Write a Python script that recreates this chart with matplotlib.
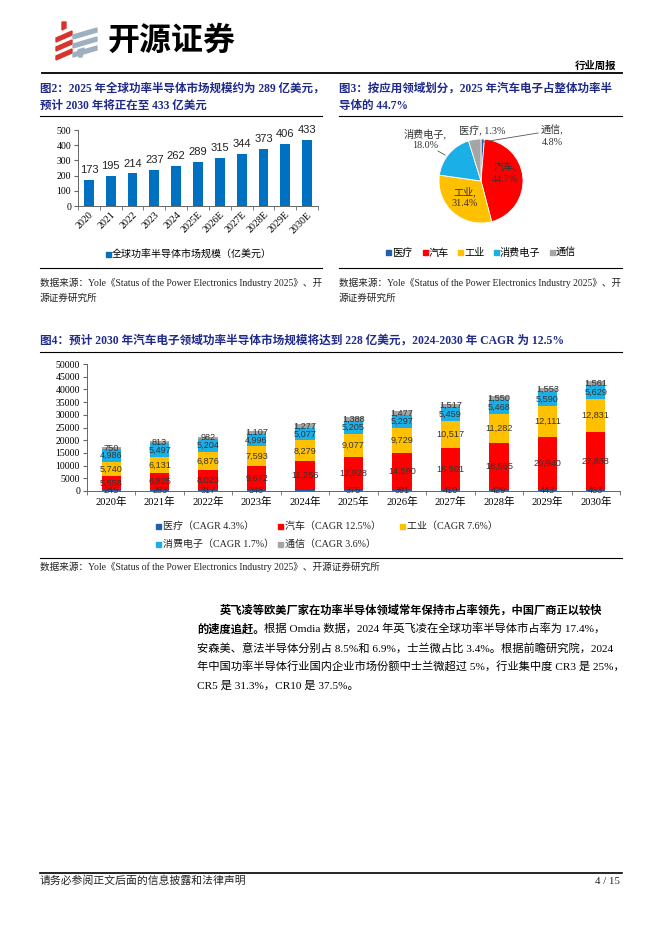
import matplotlib
matplotlib.use('Agg')
import matplotlib.pyplot as plt
from matplotlib.patches import Polygon, Rectangle
from matplotlib.lines import Line2D

W, H = 662, 936
CJK = 'Noto Sans CJK SC'
MIX = ['Liberation Serif', CJK]
NAVY = '#1F2A8A'

# 图2 数据
years2 = ['2020', '2021', '2022', '2023', '2024', '2025E', '2026E', '2027E', '2028E', '2029E', '2030E']
market = [173, 195, 214, 237, 262, 289, 315, 344, 373, 406, 433]

# 图3 数据
pie_names = ['医疗', '汽车', '工业', '消费电子', '通信']
pie_share = [1.3, 44.7, 31.4, 18.0, 4.8]

# 图4 数据
years4 = ['2020年', '2021年', '2022年', '2023年', '2024年', '2025年', '2026年', '2027年', '2028年', '2029年', '2030年']
med = [245, 283, 317, 348, 360, 375, 391, 410, 429, 443, 463]
auto = [5558, 6825, 8023, 9672, 11256, 12928, 14590, 16501, 18565, 20940, 22838]
indus = [5740, 6131, 6876, 7593, 8279, 9077, 9729, 10517, 11282, 12111, 12831]
cons = [4986, 5497, 5204, 4996, 5077, 5205, 5297, 5459, 5468, 5590, 5629]
comm = [750, 813, 982, 1107, 1277, 1388, 1477, 1517, 1550, 1553, 1561]
seg_names = ['医疗', '汽车', '工业', '消费电子', '通信']
cagr = [4.3, 12.5, 7.6, 1.7, 3.6]

colors = ['#1F5FAD', '#FF0000', '#FFC000', '#1AAFE6', '#A5A5A5']

fig = plt.figure(figsize=(W / 100, H / 100), dpi=100)


def fx(x):
    return x / W


def fy(y):
    return 1 - y / H


def txt(x, y, s, size=7, family=MIX, **kw):
    return fig.text(fx(x), fy(y), s, fontsize=size, family=family, va='center', **kw)


def hline(x0, x1, y, lw=0.8):
    fig.add_artist(Line2D([fx(x0), fx(x1)], [fy(y), fy(y)], color='k', lw=lw))


def axes_px(l, t, r, b):
    return fig.add_axes([fx(l), fy(b), (r - l) / W, (b - t) / H])


def square(x, y, c, s=6):
    fig.add_artist(Rectangle((fx(x - s / 2), fy(y + s / 2)), s / W, s / H,
                             color=c, transform=fig.transFigure))


# ---- 页眉 logo
for i in range(3):
    y = 30 + i * 9
    fig.add_artist(Polygon([(fx(56), fy(y + 8)), (fx(72), fy(y + 1)), (fx(72), fy(y + 5)), (fx(56), fy(y + 12))],
                           closed=True, color='#D9342B', transform=fig.transFigure))
    fig.add_artist(Polygon([(fx(73), fy(y + 5)), (fx(97), fy(y - 2)), (fx(97), fy(y + 2)), (fx(73), fy(y + 9))],
                           closed=True, color='#9EB0BF', transform=fig.transFigure))
fig.add_artist(Polygon([(fx(62), fy(22)), (fx(66), fy(22)), (fx(66), fy(28)), (fx(62), fy(30))],
                       closed=True, color='#D9342B', transform=fig.transFigure))
fig.add_artist(Polygon([(fx(78), fy(50)), (fx(84), fy(48)), (fx(82), fy(57)), (fx(79), fy(57))],
                       closed=True, color='#9EB0BF', transform=fig.transFigure))
txt(108, 41, '开源证券', size=23, family=CJK, weight='bold')
txt(616, 66, '行业周报', size=7.5, family=CJK, weight='bold', ha='right')
hline(42, 622, 73, lw=1.3)

# ---- 标题
TS = 8.3
txt(40, 89, '图2：2025 年全球功率半导体市场规模约为 289 亿美元，', size=TS, weight='bold', color=NAVY)
txt(40, 106, '预计 2030 年将正在至 433 亿美元', size=TS, weight='bold', color=NAVY)
txt(339, 89, '图3：按应用领域划分，2025 年汽车电子占整体功率半', size=TS, weight='bold', color=NAVY)
txt(339, 106, '导体的 44.7%', size=TS, weight='bold', color=NAVY)
hline(40, 322, 116)
hline(339, 622, 116)

# ---- 图2 柱状图
ax2 = axes_px(78, 130, 318, 206)
xs = list(range(len(years2)))
ax2.bar(xs, market, width=0.45, color='#0070C0')
for i, v in enumerate(market):
    ax2.annotate(str(v), (i, v), xytext=(0, 3.5), textcoords='offset points',
                 ha='center', va='bottom', fontsize=8, family='Liberation Sans', color='#222222')
ax2.set_xlim(-0.5, len(years2) - 0.5)
ax2.set_ylim(0, 500)
ax2.set_yticks(range(0, 501, 100))
ax2.set_xticks(xs)
ax2.set_xticklabels(years2, rotation=45, ha='right', rotation_mode='anchor', family='Liberation Serif', fontsize=7.2)
ax2.set_xticks([i + 0.5 for i in range(-1, len(years2))], minor=True)
ax2.tick_params(axis='x', which='major', length=0, pad=3)
ax2.tick_params(axis='x', which='minor', length=3, color='#666666')
ax2.tick_params(axis='y', length=3, color='#666666', labelsize=7, pad=2)
for lb in ax2.get_yticklabels():
    lb.set_family('Liberation Serif')
for s in ['top', 'right']:
    ax2.spines[s].set_visible(False)
for s in ['left', 'bottom']:
    ax2.spines[s].set_color('#666666')
    ax2.spines[s].set_linewidth(0.7)
square(108, 254, '#0070C0', 5)
txt(112, 254, '全球功率半导体市场规模（亿美元）', size=7.2, family=CJK)

# ---- 图3 饼图
ax3 = axes_px(381, 111, 581, 251)
ax3.pie(pie_share, radius=42, startangle=90, counterclock=False, colors=colors,
        wedgeprops=dict(edgecolor='white', linewidth=0.6))
ax3.set_xlim(-100, 100)
ax3.set_ylim(-70, 70)
ax3.set_aspect('equal')
ax3.axis('off')
pie_lbl_pos = [(1, 50), (24, 8), (-16, -16), (-56, 42), (71, 45)]
pie_lbl_fmt = ['{}, {:.1f}%', '{},\n{:.1f}%', '{},\n{:.1f}%', '{},\n{:.1f}%', '{},\n{:.1f}%']
for (px, py), f, n, v in zip(pie_lbl_pos, pie_lbl_fmt, pie_names, pie_share):
    ax3.text(px, py, f.format(n, v), ha='center', va='center', fontsize=7.3,
             family=MIX, color='#333333', linespacing=1.3)
ax3.plot([2, 57], [39, 48], color='#555555', lw=0.6)
ax3.plot([-43, -36], [30, 26], color='#555555', lw=0.6)
for x, n, c in zip([388, 425, 460, 496, 552], pie_names, colors):
    square(x, 253, c, 5)
    txt(x + 4, 253, n, size=7.3, family=CJK)

# ---- 数据来源
for x0, x1 in [(40, 322), (339, 622)]:
    hline(x0, x1, 268)
    txt(x0, 283, '数据来源：Yole《Status of the Power Electronics Industry 2025》、开', size=6.9, color='#222222')
    txt(x0, 298, '源证券研究所', size=6.9, color='#222222')

# ---- 图4
txt(40, 341, '图4：预计 2030 年汽车电子领域功率半导体市场规模将达到 228 亿美元，2024-2030 年 CAGR 为 12.5%',
    size=8.4, weight='bold', color=NAVY)
hline(40, 622, 352)

ax4 = axes_px(87, 364, 620, 491)
series = [med, auto, indus, cons, comm]
xs4 = list(range(len(years4)))
bottom = [0] * len(years4)
for k, vals in enumerate(series):
    ax4.bar(xs4, vals, width=0.4, bottom=bottom, color=colors[k])
    for i, v in enumerate(vals):
        if k == 0 and years4[i] == '2024年':
            continue
        ax4.text(i, bottom[i] + v / 2, f'{v:,}', ha='center', va='center', fontsize=6.6,
                 family='Liberation Sans', color='#333333')
    bottom = [b + v for b, v in zip(bottom, vals)]
ax4.set_xlim(-0.5, len(years4) - 0.5)
ax4.set_ylim(0, 50000)
ax4.set_yticks(range(0, 50001, 5000))
ax4.set_xticks(xs4)
ax4.set_xticklabels(years4, family=MIX, fontsize=7.6)
ax4.set_xticks([i + 0.5 for i in range(-1, len(years4))], minor=True)
ax4.tick_params(axis='x', which='major', length=0, pad=4)
ax4.tick_params(axis='x', which='minor', length=3, color='#666666')
ax4.tick_params(axis='y', length=3, color='#666666', labelsize=7, pad=2)
for lb in ax4.get_yticklabels():
    lb.set_family('Liberation Serif')
for s in ['top', 'right']:
    ax4.spines[s].set_visible(False)
for s in ['left', 'bottom']:
    ax4.spines[s].set_color('#666666')
    ax4.spines[s].set_linewidth(0.7)

leg_pos = [(158, 526), (280, 526), (402, 526), (158, 544), (280, 544)]
for (x, y), n, g, c in zip(leg_pos, seg_names, cagr, colors):
    square(x, y, c, 5)
    txt(x + 5, y, f'{n}（CAGR {g}%）', size=7.2, color='#222222')

hline(40, 622, 558)
txt(40, 567, '数据来源：Yole《Status of the Power Electronics Industry 2025》、开源证券研究所', size=6.9, color='#222222')

# ---- 正文
PS = 8.1
txt(220, 610, '英飞凌等欧美厂家在功率半导体领域常年保持市占率领先，中国厂商正以较快', size=PS, weight='bold')
t_bold = txt(197, 629, '的速度追赶。', size=PS, weight='bold')
fig.canvas.draw()
bb = t_bold.get_window_extent(renderer=fig.canvas.get_renderer())
txt(bb.x1, 629, '根据 Omdia 数据，2024 年英飞凌在全球功率半导体市占率为 17.4%，', size=PS)
txt(197, 648, '安森美、意法半导体分别占 8.5%和 6.9%，士兰微占比 3.4%。根据前瞻研究院，2024', size=PS)
txt(197, 667, '年中国功率半导体行业国内企业市场份额中士兰微超过 5%，行业集中度 CR3 是 25%，', size=PS)
txt(197, 686, 'CR5 是 31.3%，CR10 是 37.5%。', size=PS)

# ---- 页脚
hline(40, 622, 873, lw=1.2)
txt(40, 881, '请务必参阅正文后面的信息披露和法律声明', size=7.8, color='#222222')
txt(620, 881, '4 / 15', size=7.8, ha='right', color='#222222')

fig.savefig('out.png', dpi=100)
